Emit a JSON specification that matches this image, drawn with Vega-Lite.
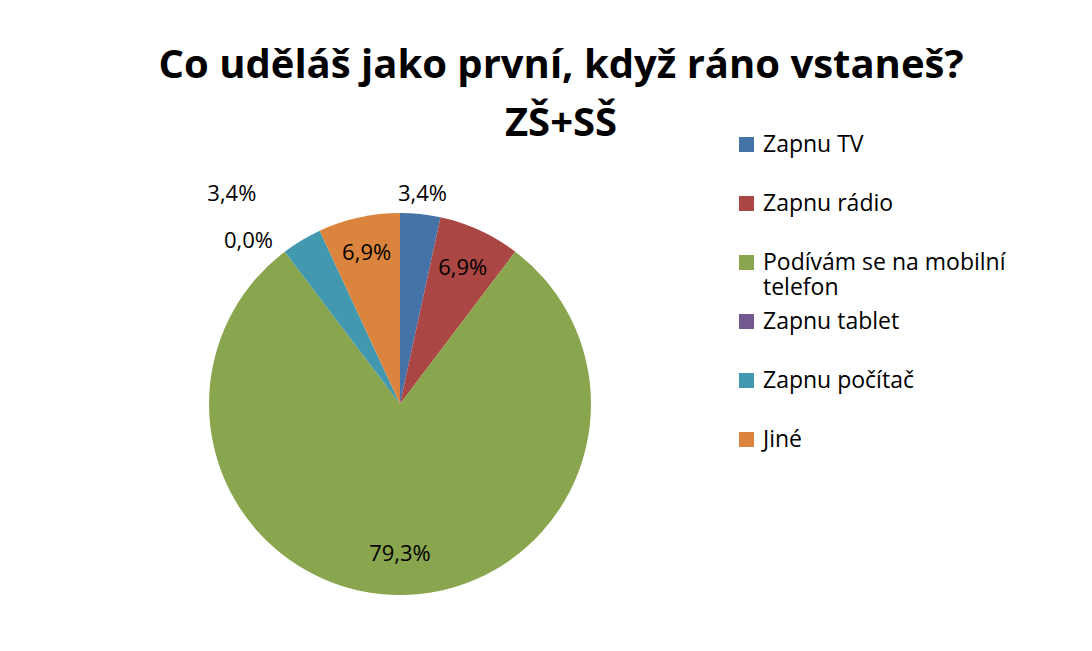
{
  "$schema": "https://vega.github.io/schema/vega-lite/v6.json",
  "width": 780,
  "height": 494,
  "padding": {"left": 10, "top": 157, "right": 302, "bottom": 0},
  "autosize": {"type": "none"},
  "background": "#ffffff",
  "title": {
    "text": ["Co uděláš jako první, když ráno vstaneš?", "ZŠ+SŠ"],
    "font": "Open Sans",
    "fontSize": 40,
    "fontWeight": "bold",
    "lineHeight": 58,
    "color": "#000000",
    "anchor": "middle",
    "dx": 161,
    "offset": -11
  },
  "data": {
    "values": [
      {"i": 1, "cat": "Zapnu TV", "share": 0.034},
      {"i": 2, "cat": "Zapnu rádio", "share": 0.069},
      {"i": 3, "cat": "Podívám se na mobilní telefon", "share": 0.793},
      {"i": 4, "cat": "Zapnu tablet", "share": 0.0},
      {"i": 5, "cat": "Zapnu počítač", "share": 0.034},
      {"i": 6, "cat": "Jiné", "share": 0.069}
    ]
  },
  "encoding": {
    "theta": {"field": "share", "type": "quantitative", "stack": true},
    "order": {"field": "i", "type": "quantitative"}
  },
  "layer": [
    {
      "mark": {"type": "arc", "outerRadius": 191, "stroke": null},
      "encoding": {
        "color": {
          "field": "cat",
          "type": "nominal",
          "scale": {
            "domain": ["Zapnu TV", "Zapnu rádio", "Podívám se na mobilní telefon", "Zapnu tablet", "Zapnu počítač", "Jiné"],
            "range": ["#4572A7", "#AA4643", "#89A54E", "#71588F", "#4198AF", "#DB843D"]
          },
          "legend": {
            "orient": "none",
            "legendX": 725,
            "legendY": -24,
            "title": null,
            "symbolType": "square",
            "symbolSize": 225,
            "symbolStrokeWidth": 0,
            "labelFont": "Open Sans",
            "labelFontSize": 23,
            "labelColor": "#000000",
            "labelLimit": 400,
            "labelOffset": 5,
            "gridAlign": "all",
            "rowPadding": 10,
            "padding": 0,
            "labelExpr": "datum.label == 'Podívám se na mobilní telefon' ? ['Podívám se na mobilní', 'telefon'] : datum.label"
          }
        }
      }
    },
    {
      "mark": {"type": "text", "radius": 211, "font": "Open Sans", "fontSize": 22, "color": "#000000"},
      "encoding": {
        "text": {"condition": {"test": "datum.cat === 'Zapnu TV'", "field": "share", "format": ".1%"}, "value": ""}
      }
    },
    {
      "mark": {"type": "text", "radius": 150, "font": "Open Sans", "fontSize": 22, "color": "#000000"},
      "encoding": {
        "text": {"condition": {"test": "datum.cat === 'Zapnu rádio' || datum.cat === 'Podívám se na mobilní telefon'", "field": "share", "format": ".1%"}, "value": ""}
      }
    },
    {
      "mark": {"type": "text", "radius": 155, "font": "Open Sans", "fontSize": 22, "color": "#000000"},
      "encoding": {
        "text": {"condition": {"test": "datum.cat === 'Jiné'", "field": "share", "format": ".1%"}, "value": ""}
      }
    },
    {
      "mark": {"type": "text", "radius": 223, "dx": -17, "dy": 15, "font": "Open Sans", "fontSize": 22, "color": "#000000"},
      "encoding": {
        "text": {"condition": {"test": "datum.cat === 'Zapnu tablet'", "field": "share", "format": ".1%"}, "value": ""}
      }
    },
    {
      "mark": {"type": "text", "radius": 245, "dx": -42, "font": "Open Sans", "fontSize": 22, "color": "#000000"},
      "encoding": {
        "text": {"condition": {"test": "datum.cat === 'Zapnu počítač'", "field": "share", "format": ".1%"}, "value": ""}
      }
    }
  ],
  "config": {
    "view": {"stroke": null},
    "locale": {"number": {"decimal": ",", "thousands": " ", "grouping": [3], "currency": ["", " Kč"]}}
  }
}
